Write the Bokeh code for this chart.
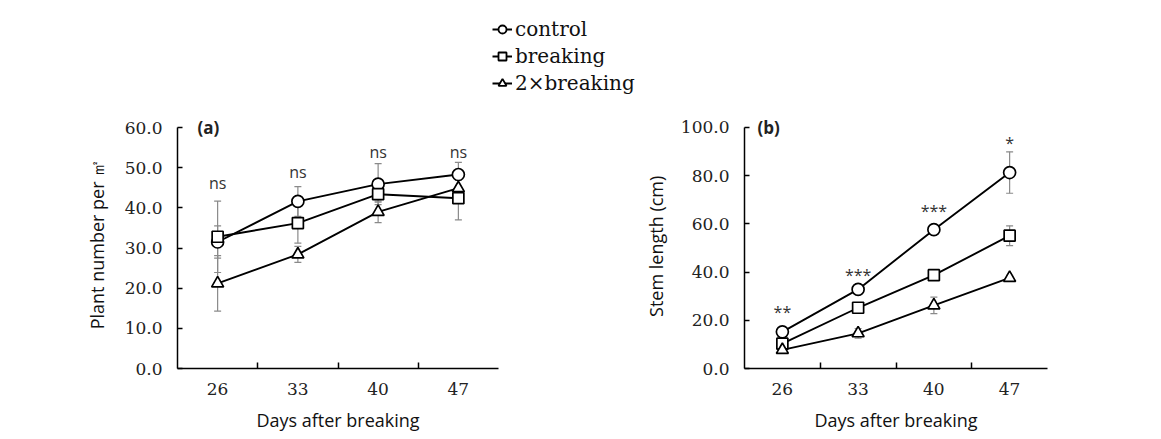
from bokeh.plotting import figure
from bokeh.models import (ColumnDataSource, Whisker, TeeHead, FixedTicker,
                          NumeralTickFormatter, Legend, LegendItem, Label, Range1d)
from bokeh.layouts import column, row
from bokeh.core.properties import value
from bokeh.embed import file_html
from bokeh.resources import INLINE

# ---------------- data ----------------
days = [26, 33, 40, 47]
series_names = ["control", "breaking", "2\u00d7breaking"]
markers = ["circle", "square", "triangle"]

# (a) plant number per m2
a_control = [31.5, 41.6, 45.9, 48.3]
a_breaking = [32.8, 36.2, 43.4, 42.4]
a_double = [21.2, 28.4, 39.0, 44.9]
a_control_err = [4.0, 3.7, 5.1, 3.0]
a_breaking_err = [8.9, 5.0, 2.0, 5.4]
a_double_err = [6.9, 2.0, 2.7, 2.0]
a_sig = ["ns", "ns", "ns", "ns"]
a_sig_y = [46.3, 49.0, 54.0, 54.0]

# (b) stem length (cm)
b_control = [15.2, 32.8, 57.6, 81.3]
b_breaking = [10.3, 25.2, 38.7, 55.1]
b_double = [7.7, 14.6, 26.2, 37.6]
b_control_err = [1.0, 1.0, 2.0, 8.6]
b_breaking_err = [1.0, 1.0, 1.0, 4.1]
b_double_err = [1.0, 2.0, 3.4, 1.0]
b_sig = ["**", "***", "***", "*"]
b_sig_y = [23.5, 38.8, 65.5, 93.5]

SERIF = "DejaVu Serif"
SANS = "Open Sans"
ERR_COLOR = "#8a8a8a"


def make_panel(vals, errs, ymax, ypad, ystep, ylabel, sig, sig_y, letter, letter_dx,
               width, border_left, border_right, label_standoff, tick_standoff):
    half = (days[1] - days[0]) / 2
    p = figure(width=width, height=331, output_backend="svg", toolbar_location=None,
               x_range=Range1d(days[0] - half, days[-1] + half),
               y_range=Range1d(0, ymax + ypad),
               min_border_left=border_left, min_border_right=border_right,
               min_border_top=11, min_border_bottom=71)
    p.outline_line_color = None
    p.xgrid.visible = False
    p.ygrid.visible = False

    # x axis: labels at days, small inward ticks at category boundaries
    bounds = [(a + b) / 2 for a, b in zip(days, days[1:])]
    p.xaxis.ticker = FixedTicker(ticks=days, minor_ticks=bounds)
    p.xaxis.major_tick_line_color = None
    p.xaxis.minor_tick_in = 6
    p.xaxis.minor_tick_out = 0
    p.xaxis.minor_tick_line_color = "black"
    p.xaxis.minor_tick_line_width = 1.5
    p.xaxis.axis_label = "Days after breaking"
    p.xaxis.major_label_standoff = 8
    p.xaxis.axis_label_standoff = 10

    p.yaxis.ticker = FixedTicker(ticks=list(range(0, ymax + 1, ystep)))
    p.yaxis.bounds = (0, ymax)
    p.yaxis.formatter = NumeralTickFormatter(format="0.0")
    p.yaxis.major_tick_in = 5
    p.yaxis.major_tick_out = 0
    p.yaxis.minor_tick_line_color = None
    p.yaxis.major_tick_line_width = 1.5
    p.yaxis.axis_label = ylabel
    p.yaxis.major_label_standoff = tick_standoff
    p.yaxis.axis_label_standoff = label_standoff

    for ax in (p.xaxis, p.yaxis):
        ax.axis_line_width = 1.5
        ax.axis_line_color = "black"
        ax.major_label_text_font = SERIF
        ax.major_label_text_font_size = "17px"
        ax.major_label_text_color = "#222222"
        ax.axis_label_text_font = SANS
        ax.axis_label_text_font_size = "18px"
        ax.axis_label_text_font_style = "normal"
        ax.axis_label_text_color = "#111111"

    for v, e, m in zip(vals, errs, markers):
        src = ColumnDataSource(data=dict(
            x=days, y=v,
            lo=[a - b for a, b in zip(v, e)],
            hi=[a + b for a, b in zip(v, e)]))
        w = Whisker(base="x", upper="hi", lower="lo", source=src,
                    line_color=ERR_COLOR, line_width=1.2, level="underlay",
                    upper_head=TeeHead(size=7, line_color=ERR_COLOR, line_width=1.2),
                    lower_head=TeeHead(size=7, line_color=ERR_COLOR, line_width=1.2))
        p.add_layout(w)
        p.line("x", "y", source=src, line_color="black", line_width=1.9)
        size = 11 if m == "square" else 12
        p.scatter("x", "y", source=src, marker=m, size=size, fill_color="white",
                  line_color="black", line_width=1.7)

    ssrc = ColumnDataSource(data=dict(x=days, y=sig_y, t=sig))
    p.text("x", "y", text="t", source=ssrc, text_font=value(SANS),
           text_font_size="16px", text_align="center", text_baseline="middle",
           text_color="#333333")

    p.add_layout(Label(x=days[0] - half, y=ymax, x_offset=letter_dx, text=letter,
                       text_font=SANS, text_font_size="17px",
                       text_font_style="bold", text_baseline="middle",
                       text_color="#222222"))
    return p


pa = make_panel([a_control, a_breaking, a_double],
                [a_control_err, a_breaking_err, a_double_err],
                60, 2, 10, "Plant number per \u33a1", a_sig, a_sig_y, "(a)", 20,
                640, 177, 142, 13, 15)
pb = make_panel([b_control, b_breaking, b_double],
                [b_control_err, b_breaking_err, b_double_err],
                100, 3.3, 20, "Stem  length (cm)", b_sig, b_sig_y, "(b)", 13,
                513, 97, 106, 10, 15)

# ---------------- legend strip ----------------
# The legend's renderers use the panel (a) data, drawn out of this strip's view.
top = figure(width=1153, height=108, output_backend="svg", toolbar_location=None,
             x_axis_location=None, y_axis_location=None,
             x_range=Range1d(0, 1), y_range=Range1d(0, 1), min_border=0)
top.outline_line_color = None
top.grid.visible = False
items = []
for name, m, v in zip(series_names, markers, [a_control, a_breaking, a_double]):
    lsrc = ColumnDataSource(data=dict(x=days, y=v))
    rl = top.line("x", "y", source=lsrc, line_color="black", line_width=2)
    rm = top.scatter("x", "y", source=lsrc, marker=m, size=10, fill_color="white",
                     line_color="black", line_width=1.8)
    items.append(LegendItem(label=name, renderers=[rl, rm]))
leg = Legend(items=items, location=(492, 13), orientation="vertical",
             label_text_font=SERIF, label_text_font_size="20px",
             label_text_color="#111111",
             glyph_width=20, glyph_height=24, label_height=24, spacing=3,
             padding=0, margin=0, label_standoff=3,
             border_line_color=None, background_fill_alpha=0)
top.add_layout(leg)

layout = column(top, row(pa, pb))
open("out.html", "w").write(file_html(layout, INLINE))
